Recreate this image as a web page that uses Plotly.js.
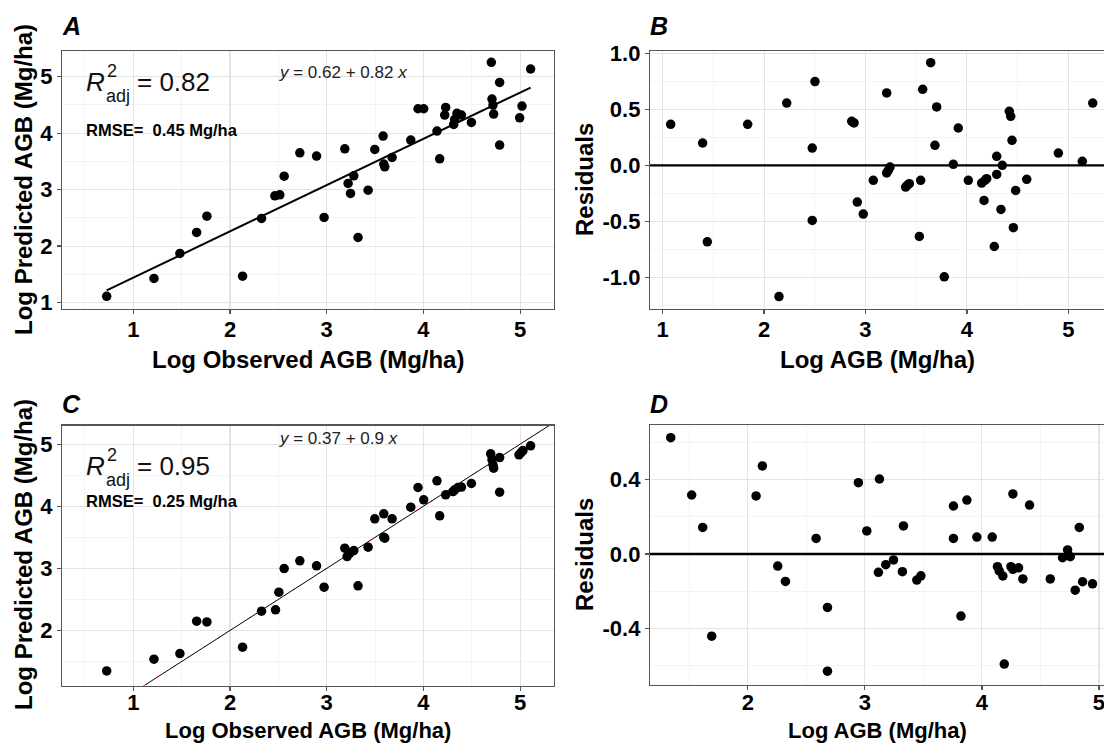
<!DOCTYPE html>
<html><head><meta charset="utf-8">
<script src="https://cdn.plot.ly/plotly-3.0.1.min.js"></script>
<style>html,body{margin:0;padding:0;background:#fff;overflow:hidden}#chart{width:1104px;height:744px}</style>
</head><body><div id="chart"></div>
<script>
// ---------------- data ----------------
// Panels A & C: log observed AGB (x)
const obsLogAGB = [0.725,1.214,1.482,1.655,1.761,2.130,2.326,2.464,2.515,2.560,2.722,2.895,2.973,3.187,3.221,3.246,3.280,3.324,3.428,3.497,3.583,3.590,3.600,3.676,3.869,3.944,4.003,4.140,4.168,4.230,4.220,4.313,4.323,4.347,4.393,4.496,4.702,4.709,4.719,4.726,4.788,4.788,4.995,5.019,5.108];
// Panel A: log predicted AGB
const predA = [1.11,1.426,1.869,2.241,2.530,1.466,2.489,2.890,2.908,3.239,3.652,3.594,2.507,3.723,3.110,2.933,3.245,2.152,2.991,3.713,3.949,3.452,3.404,3.571,3.878,4.433,4.433,4.037,3.546,4.457,4.321,4.155,4.244,4.351,4.321,4.191,5.255,4.605,4.498,4.339,4.900,3.789,4.273,4.480,5.137];
// Panel C: observed x (same plots) and log predicted AGB
const obsLogAGBC = [0.725,1.214,1.482,1.655,1.761,2.130,2.326,2.471,2.505,2.560,2.722,2.895,2.973,3.187,3.211,3.239,3.280,3.324,3.428,3.497,3.590,3.590,3.600,3.676,3.869,3.944,4.003,4.140,4.168,4.230,4.306,4.323,4.357,4.393,4.496,4.695,4.709,4.719,4.726,4.788,4.788,4.988,5.010,5.029,5.108];
const predC = [1.349,1.537,1.628,2.150,2.138,1.731,2.310,2.332,2.616,2.997,3.121,3.040,2.697,3.325,3.190,3.245,3.287,2.718,3.341,3.797,3.878,3.502,3.486,3.797,3.985,4.302,4.103,4.409,3.845,4.184,4.237,4.264,4.302,4.308,4.366,4.844,4.747,4.667,4.613,4.784,4.227,4.828,4.865,4.897,4.973];
// Panel B: log AGB and residuals
const logAGB_B = [1.079,1.394,1.440,1.838,2.147,2.223,2.475,2.475,2.502,2.864,2.887,2.919,2.978,3.077,3.209,3.209,3.225,3.242,3.396,3.412,3.432,3.531,3.544,3.564,3.643,3.685,3.702,3.777,3.866,3.915,4.014,4.146,4.169,4.178,4.195,4.270,4.294,4.294,4.336,4.349,4.418,4.432,4.445,4.458,4.481,4.590,4.902,5.138,5.241];
const residB = [0.367,0.200,-0.683,0.367,-1.172,0.557,0.155,-0.492,0.749,0.394,0.379,-0.328,-0.435,-0.134,0.647,-0.068,-0.045,-0.015,-0.194,-0.179,-0.164,-0.635,-0.134,0.680,0.918,0.179,0.522,-0.996,0.009,0.334,-0.134,-0.158,-0.313,-0.134,-0.119,-0.725,0.081,-0.081,-0.394,0.0,0.483,0.438,0.224,-0.557,-0.224,-0.125,0.110,0.036,0.557];
// Panel D: log AGB and residuals
const logAGB_D = [1.342,1.521,1.615,1.692,2.071,2.125,2.256,2.322,2.584,2.681,2.681,2.945,3.017,3.116,3.125,3.179,3.245,3.321,3.330,3.444,3.479,3.757,3.757,3.821,3.872,3.957,4.088,4.133,4.148,4.179,4.191,4.248,4.265,4.265,4.313,4.350,4.407,4.584,4.689,4.732,4.755,4.797,4.832,4.860,4.945];
const residD = [0.625,0.317,0.143,-0.441,0.312,0.473,-0.065,-0.147,0.084,-0.287,-0.629,0.383,0.124,-0.098,0.403,-0.057,-0.032,-0.095,0.151,-0.140,-0.117,0.258,0.084,-0.333,0.290,0.091,0.091,-0.068,-0.091,-0.118,-0.591,-0.068,-0.082,0.323,-0.074,-0.134,0.263,-0.134,-0.020,0.022,-0.014,-0.194,0.143,-0.149,-0.160];
// fitted lines: [intercept, slope]
const fitA = [0.62, 0.82];
const oneToOneC = [0, 1];
const oneToOneSpan = [0, 6];
const residBaseline = 0;
const baselineSpan = [0, 6];
// tick values / labels
const ticksObs = [1,2,3,4,5];
const ticksPred = [1,2,3,4,5];
const ticksResidB = [-1,-0.5,0,0.5,1];
const labelsResidB = ['-1.0','-0.5','0.0','0.5','1.0'];
const ticksResidD = [-0.4,0,0.4];
const labelsResidD = ['-0.4','0.0','0.4'];
const ticksAGB_D = [2,3,4,5];
// text
const panelLetters = ['A','B','C','D'];
const r2Values = ['0.82','0.95'];
const rmseValues = ['0.45','0.25'];
const eqTexts = ['<i>y</i> = 0.62 + 0.82 <i>x</i>', '<i>y</i> = 0.37 + 0.9 <i>x</i>'];

// ---------------- layout helpers ----------------
const W = 1104, H = 744;
const FONT = 'Liberation Sans, Arial, Helvetica, sans-serif';
const px = v => v / W;
const py = v => 1 - v / H;

const lineA_x = [Math.min(...obsLogAGB), Math.max(...obsLogAGB)];
const lineA_y = lineA_x.map(v => fitA[0] + fitA[1] * v);
const lineC_y = oneToOneSpan.map(v => oneToOneC[0] + oneToOneC[1] * v);
const baselineY = baselineSpan.map(() => residBaseline);

const marker = {color: '#000', size: 9.5, line: {width: 0}};
const traces = [
  {x: lineA_x, y: lineA_y, mode: 'lines', line: {color: '#000', width: 2}, xaxis: 'x', yaxis: 'y', hoverinfo: 'skip'},
  {x: obsLogAGB, y: predA, mode: 'markers', marker, xaxis: 'x', yaxis: 'y'},
  {x: baselineSpan, y: baselineY, mode: 'lines', line: {color: '#000', width: 2.4}, xaxis: 'x2', yaxis: 'y2', hoverinfo: 'skip'},
  {x: logAGB_B, y: residB, mode: 'markers', marker, xaxis: 'x2', yaxis: 'y2'},
  {x: oneToOneSpan, y: lineC_y, mode: 'lines', line: {color: '#000', width: 1}, xaxis: 'x3', yaxis: 'y3', hoverinfo: 'skip'},
  {x: oneToOneSpan, y: lineC_y, mode: 'lines', line: {color: '#d00000', width: 1, dash: '2px,16px'}, xaxis: 'x3', yaxis: 'y3', hoverinfo: 'skip'},
  {x: obsLogAGBC, y: predC, mode: 'markers', marker, xaxis: 'x3', yaxis: 'y3'},
  {x: baselineSpan, y: baselineY, mode: 'lines', line: {color: '#000', width: 2.4}, xaxis: 'x4', yaxis: 'y4', hoverinfo: 'skip'},
  {x: logAGB_D, y: residD, mode: 'markers', marker, xaxis: 'x4', yaxis: 'y4'}
];

function ax(o) {
  return Object.assign({
    showline: true, linecolor: '#555', linewidth: 1.2, mirror: true,
    ticks: 'outside', ticklen: 4, tickcolor: '#555', tickwidth: 1.2,
    showgrid: true, gridcolor: '#e4e4e4', gridwidth: 1.1,
    zeroline: false, tickmode: 'array', fixedrange: true, ticklabeloverflow: 'allow',
    tickfont: {family: FONT, size: 22, color: '#000', weight: 'bold'}
  }, o);
}
const minor = (d) => ({dtick: d, tick0: 0, showgrid: true, gridcolor: '#efefef', gridwidth: 0.7, ticks: ''});

const layout = {
  width: W, height: H, margin: {l: 0, r: 0, t: 0, b: 0},
  paper_bgcolor: '#fff', plot_bgcolor: '#fff', showlegend: false,
  font: {family: FONT, color: '#000'},
  xaxis:  ax({domain: [px(62), px(554)], range: [0.263, 5.35], tickvals: ticksObs, anchor: 'y', minor: minor(0.5), ticklabelstandoff: -4}),
  yaxis:  ax({domain: [py(309), py(51)], range: [0.885, 5.456], tickvals: ticksPred, anchor: 'x', minor: minor(0.5)}),
  xaxis2: ax({domain: [px(650), 1], range: [0.875, 5.352], tickvals: ticksObs, anchor: 'y2', minor: minor(0.5), ticklabelstandoff: -4}),
  yaxis2: ax({domain: [py(309), py(51)], range: [-1.2835, 1.022], tickvals: ticksResidB, ticktext: labelsResidB, anchor: 'x2', mirror: false, minor: minor(0.25)}),
  xaxis3: ax({domain: [px(62), px(554)], range: [0.263, 5.35], tickvals: ticksObs, anchor: 'y3', minor: minor(0.5), ticklabelstandoff: -7}),
  yaxis3: ax({domain: [py(685.5), py(425.5)], range: [1.114, 5.30], tickvals: ticksPred, anchor: 'x3', minor: minor(0.5)}),
  xaxis4: ax({domain: [px(650), 1], range: [1.165, 5.043], tickvals: ticksAGB_D, anchor: 'y4', minor: minor(0.5), ticklabelstandoff: -7}),
  yaxis4: ax({domain: [py(685), py(425)], range: [-0.7035, 0.693], tickvals: ticksResidD, ticktext: labelsResidD, anchor: 'x4', mirror: false, minor: minor(0.2)}),
  annotations: []
};

const ann = layout.annotations;
function txt(text, x, y, size, opts) {
  ann.push(Object.assign({text, x: px(x), y: py(y), xref: 'paper', yref: 'paper', showarrow: false,
    xanchor: 'center', yanchor: 'middle', font: {family: FONT, size, color: '#000'}}, opts || {}));
}
const titleFont = {family: FONT, size: 24, color: '#000', weight: 'bold'};
const titleFontLow = {family: FONT, size: 22, color: '#000', weight: 'bold'};
// panel letters
[[62, 26], [650, 26], [62, 404], [650, 404]].forEach((p, i) =>
  txt('<b><i>' + panelLetters[i] + '</i></b>', p[0] - 2, p[1], 25, {xanchor: 'left'}));
// axis titles
txt('Log Observed AGB (Mg/ha)', 308, 359, 24, {font: titleFont});
txt('Log AGB (Mg/ha)', 877, 359, 24, {font: titleFont});
txt('Log Observed AGB (Mg/ha)', 308, 730.5, 22, {font: titleFontLow, yanchor: 'middle', borderpad: 0});
txt('Log AGB (Mg/ha)', 877, 730.5, 22, {font: titleFontLow, yanchor: 'middle', borderpad: 0});
txt('Log Predicted AGB (Mg/ha)', 23, 180, 24, {font: titleFont, textangle: -90});
txt('Residuals', 584, 180, 24, {font: titleFont, textangle: -90});
txt('Log Predicted AGB (Mg/ha)', 23, 555, 24, {font: titleFont, textangle: -90});
txt('Residuals', 584, 555, 24, {font: titleFont, textangle: -90});
// R² labels, RMSE and equations
[0, 384].forEach((dy, i) => {
  txt('<i>R</i>', 84, 82 + dy, 26, {xanchor: 'left', font: {family: FONT, size: 26, color: '#111'}});
  txt('2', 111.5, 71 + dy, 18, {font: {family: FONT, size: 18, color: '#111'}});
  txt('adj', 104, 96 + dy, 18, {xanchor: 'left', font: {family: FONT, size: 18, color: '#111'}});
  txt('= ' + r2Values[i], 135, 82 + dy, 26, {xanchor: 'left', font: {family: FONT, size: 26, color: '#111'}});
  txt('<b>RMSE=\u00a0\u00a0' + rmseValues[i] + ' Mg/ha</b>', 84, (i === 0 ? 130 : 501), 16.5, {xanchor: 'left', font: {family: FONT, size: 16.5, color: '#000'}});
  txt(eqTexts[i], 277, (i === 0 ? 72 : 438), 17, {xanchor: 'left', font: {family: FONT, size: 17, color: '#222'}});
});

Plotly.newPlot('chart', traces, layout, {staticPlot: true, displayModeBar: false});
</script>
</body></html>
